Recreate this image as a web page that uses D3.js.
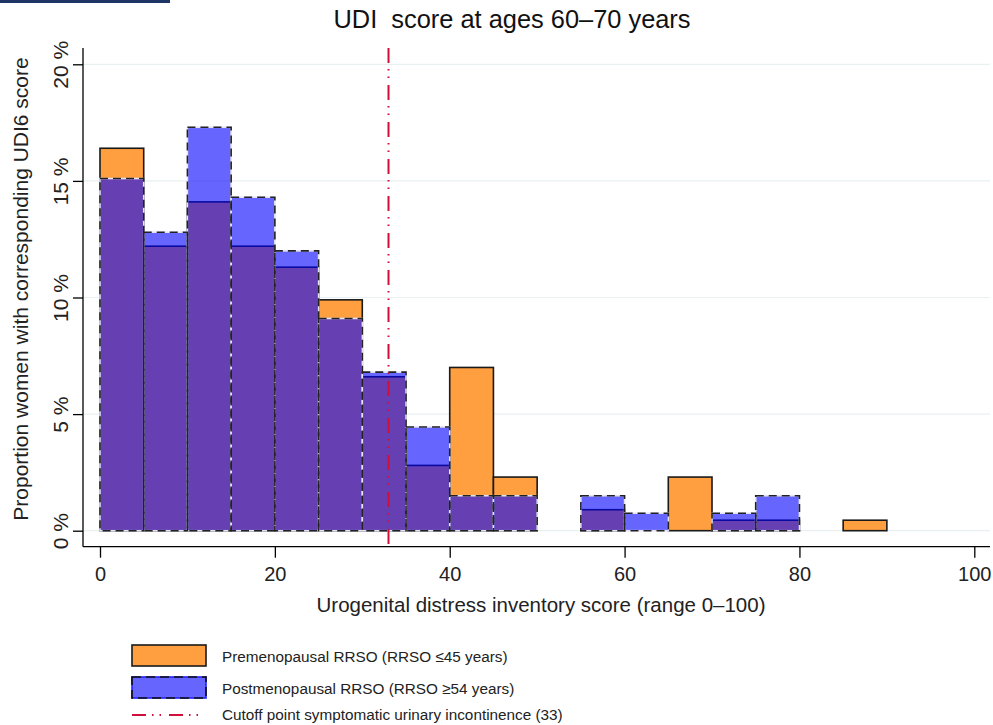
<!DOCTYPE html>
<html>
<head>
<meta charset="utf-8">
<script src="https://cdn.jsdelivr.net/npm/d3@7"></script>
<style>
  body { margin: 0; background: #fff; }
  svg { display: block; font-family: "Liberation Sans", Arial, sans-serif; }
</style>
</head>
<body>
<svg id="chart" width="993" height="725"></svg>
<script>
// ---- data ----
const binStarts = [0,5,10,15,20,25,30,35,40,45,50,55,60,65,70,75,80,85];
const binWidth = 5;
const preValues  = [16.4,12.2,14.1,12.2,11.3,9.9,6.6,2.8,7.0,2.3,0,0.9,0,2.3,0.45,0.45,0,0.45];
const postValues = [15.1,12.8,17.3,14.3,12.0,9.1,6.8,4.45,1.5,1.5,0,1.5,0.75,0,0.75,1.5,0,0];
const yTicks = [0,5,10,15,20];
const xTicks = [0,20,40,60,80,100];
const cutoff = 33;
const titleText = "UDI\u00a0 score at ages 60\u201370 years";
const xLabel = "Urogenital distress inventory score (range 0\u2013100)";
const yLabel = "Proportion women with corresponding UDI6 score";
const legendLabels = [
  "Premenopausal RRSO (RRSO \u226445 years)",
  "Postmenopausal RRSO (RRSO \u226554 years)",
  "Cutoff point symptomatic urinary incontinence (33)"
];

// ---- layout ----
const svg = d3.select("#chart");
const x = d3.scaleLinear().domain([0,100]).range([100,974.3]);
const y = d3.scaleLinear().domain([0,20]).range([530.7,64.3]);
const plotLeft = 83, plotRight = 990, plotTop = 48, plotBottom = 546.7;

const orange = "#ff9f40";
const blue = "#0000ff";
const cutColor = "#d0103a";

// header strip
svg.append("rect").attr("x",0).attr("y",0).attr("width",170).attr("height",3).attr("fill","#1f3566");

// gridlines
svg.append("g").selectAll("line").data(yTicks).join("line")
  .attr("x1",plotLeft).attr("x2",plotRight)
  .attr("y1",d=>y(d)).attr("y2",d=>y(d))
  .attr("stroke","#e8f0f2").attr("stroke-width",1.2);

// orange bars
const data = binStarts.map((s,i)=>({s, pre:preValues[i], post:postValues[i]}));
svg.append("g").selectAll("rect").data(data.filter(d=>d.pre>0)).join("rect")
  .attr("x",d=>x(d.s)).attr("width",d=>x(d.s+binWidth)-x(d.s))
  .attr("y",d=>y(d.pre)).attr("height",d=>y(0)-y(d.pre))
  .attr("fill",orange).attr("stroke","#1a1a1a").attr("stroke-width",1.6);

// blue bars (transparent)
const postData = data.filter(d=>d.post>0);
svg.append("g").selectAll("rect").data(postData).join("rect")
  .attr("x",d=>x(d.s)).attr("width",d=>x(d.s+binWidth)-x(d.s))
  .attr("y",d=>y(d.post)).attr("height",d=>y(0)-y(d.post))
  .attr("fill",blue).attr("fill-opacity",0.6)
  .attr("stroke","#e4e4f6").attr("stroke-width",1.6);
svg.append("g").selectAll("rect").data(postData).join("rect")
  .attr("x",d=>x(d.s)).attr("width",d=>x(d.s+binWidth)-x(d.s))
  .attr("y",d=>y(d.post)).attr("height",d=>y(0)-y(d.post))
  .attr("fill","none")
  .attr("stroke","#222").attr("stroke-width",1.6).attr("stroke-dasharray","8,5");

// cutoff line
svg.append("line")
  .attr("x1",x(cutoff)).attr("x2",x(cutoff))
  .attr("y1",plotTop).attr("y2",plotBottom)
  .attr("stroke",cutColor).attr("stroke-width",2)
  .attr("stroke-dasharray","15,6,1.5,6,1.5,7");

// axes
const yAxis = svg.append("g").attr("transform",`translate(${plotLeft},0)`)
  .call(d3.axisLeft(y).tickValues(yTicks).tickSize(10).tickSizeOuter(0).tickFormat(d=>d+" %"));
yAxis.select(".domain").remove();
yAxis.attr("font-size",21).attr("font-family","Liberation Sans, Arial, sans-serif");
yAxis.append("line").attr("x1",0).attr("x2",0).attr("y1",plotTop).attr("y2",plotBottom).attr("stroke","#000").attr("stroke-width",1.3);
yAxis.selectAll(".tick line").attr("stroke","#000").attr("stroke-width",1.3);
yAxis.selectAll(".tick text")
  .attr("transform","rotate(-90)")
  .attr("x",0).attr("y",-15).attr("dy","0")
  .attr("text-anchor","middle")
  .attr("fill","#222");

const xAxis = svg.append("g").attr("transform",`translate(0,${plotBottom})`)
  .call(d3.axisBottom(x).tickValues(xTicks).tickSize(11).tickSizeOuter(0));
xAxis.select(".domain").remove();
xAxis.attr("font-size",20).attr("font-family","Liberation Sans, Arial, sans-serif");
xAxis.append("line").attr("x1",plotLeft).attr("x2",plotRight).attr("y1",0).attr("y2",0).attr("stroke","#000").attr("stroke-width",1.3);
xAxis.selectAll(".tick line").attr("stroke","#000").attr("stroke-width",1.3);
xAxis.selectAll(".tick text")
  .attr("y",20).attr("dy","0.71em")
  .attr("fill","#222");

// title & labels
svg.append("text").attr("x",512).attr("y",28).attr("text-anchor","middle")
  .attr("font-size",25.4).attr("fill","#111").text(titleText);
svg.append("text").attr("x",541).attr("y",612).attr("text-anchor","middle")
  .attr("font-size",20.5).attr("fill","#222").text(xLabel);
svg.append("text").attr("transform",`translate(28,289) rotate(-90)`)
  .attr("text-anchor","middle").attr("font-size",21).attr("fill","#222").text(yLabel);

// legend
const lg = svg.append("g");
lg.append("rect").attr("x",132).attr("y",645).attr("width",74).attr("height",21)
  .attr("fill",orange).attr("stroke","#1a1a1a").attr("stroke-width",1.6);
lg.append("rect").attr("x",132).attr("y",677).attr("width",74).attr("height",21)
  .attr("fill",blue).attr("fill-opacity",0.6).attr("stroke","#2020ff").attr("stroke-width",1.6);
lg.append("rect").attr("x",132).attr("y",677).attr("width",74).attr("height",21)
  .attr("fill","none").attr("stroke","#111").attr("stroke-width",1.6).attr("stroke-dasharray","9,5");
lg.append("line").attr("x1",132).attr("x2",206).attr("y1",715).attr("y2",715)
  .attr("stroke",cutColor).attr("stroke-width",2).attr("stroke-dasharray","14,6,1.5,6,1.5,8");
[657,689,715].forEach((yy,i)=>{
  lg.append("text").attr("x",222).attr("y",yy).attr("dy","0.35em")
    .attr("font-size",15.3).attr("fill","#222").text(legendLabels[i]);
});
</script>
</body>
</html>
